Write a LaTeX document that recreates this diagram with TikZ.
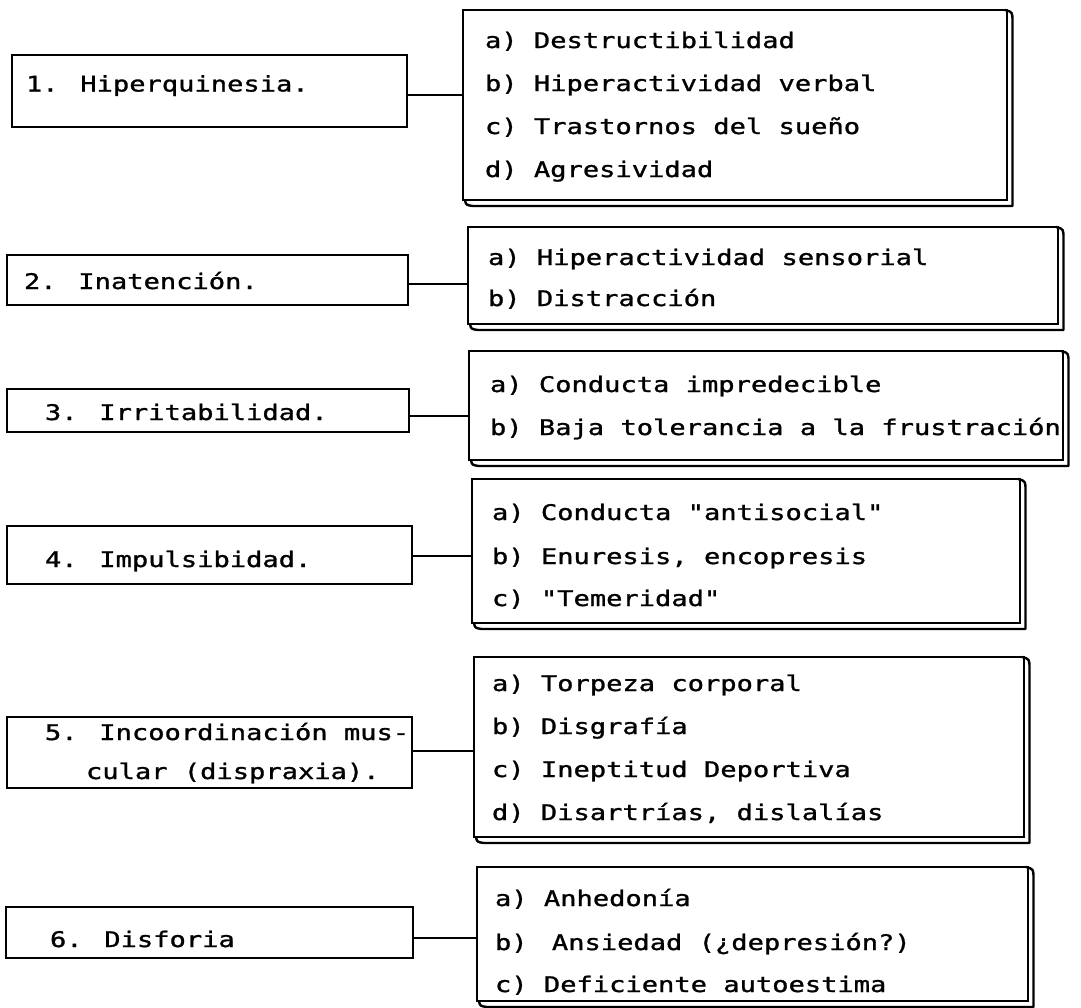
\documentclass[tikz,border=0pt]{standalone}
\usepackage{fontspec}
\newfontfamily\tw[FakeStretch=1.26,FakeBold=1.2]{DejaVu Sans Mono}
\newcommand\halfch{\hspace{8pt}}
\begin{document}
\begin{tikzpicture}[x=1pt,y=-1pt,
  lbox/.style={draw, line width=2.9pt, rectangle, inner sep=0pt, outer sep=0pt, anchor=north west},
  rbox/.style={draw, line width=2.9pt, rectangle, inner sep=0pt, outer sep=0pt, anchor=north west},
  txt/.style={inner sep=0pt, outer sep=0pt, anchor=base west, font=\tw\fontsize{21.5}{24}\selectfont},
  link/.style={line width=2.9pt},
  shadow/.style={line width=2.4pt, line join=round, line cap=round}]
\useasboundingbox (0,0) rectangle (1081,1007);
\newcommand\bx[6]{\node[#1, minimum width={(#5-#3)*1pt}, minimum height={(#6-#4)*1pt}] (#2) at (#3,#4) {};}
\newcommand\shd[1]{\draw[shadow] ([xshift=2pt]#1.south west) .. controls ([xshift=3pt,yshift=-5pt]#1.south west) .. ([xshift=10pt,yshift=-6pt]#1.south west) -- ([xshift=5.5pt,yshift=-6pt]#1.south east) -- ([xshift=5.5pt,yshift=-12pt]#1.north east) .. controls ([xshift=5.5pt,yshift=-2pt]#1.north east) .. ([xshift=-2pt]#1.north east);}

% left boxes
\bx{lbox}{L1}{12}{55}{407}{127}
\bx{lbox}{L2}{7}{255}{408}{305}
\bx{lbox}{L3}{7}{389}{409}{432}
\bx{lbox}{L4}{7}{526}{412}{584}
\bx{lbox}{L5}{7}{717}{412}{788}
\bx{lbox}{L6}{6}{907}{413}{958}

\node[txt] (L1t) at (26,91.5) {1. Hiperquinesia.};
\node[txt] (L2t) at (24,289) {2. Inatención.};
\node[txt] (L3t) at (45,420) {3. Irritabilidad.};
\node[txt] (L4t) at (45,567) {4. Impulsibidad.};
\node[txt] (L5t) at (45,740) {5. Incoordinación mus-};
\node[txt] (L5u) at (86,779) {cular (dispraxia).};
\node[txt] (L6t) at (50,947) {6. Disforia};

% right boxes
\bx{rbox}{R1}{463}{10}{1007}{200}
\bx{rbox}{R2}{468}{227}{1058}{324}
\bx{rbox}{R3}{469}{351}{1063}{460}
\bx{rbox}{R4}{472}{479}{1020}{623}
\bx{rbox}{R5}{474}{657}{1024}{837}
\bx{rbox}{R6}{477}{867}{1028}{1001}
\shd{R1}\shd{R2}\shd{R3}\shd{R4}\shd{R5}\shd{R6}

\node[txt] (R1a) at (485,48) {a) Destructibilidad};
\node[txt] (R1b) at (485,91) {b) Hiperactividad verbal};
\node[txt] (R1c) at (485,134) {c) Trastornos del sueño};
\node[txt] (R1d) at (485,177) {d) Agresividad};

\node[txt] (R2a) at (488,265) {a) Hiperactividad sensorial};
\node[txt] (R2b) at (488,306) {b) Distracción};

\node[txt] (R3a) at (490,392) {a) Conducta impredecible};
\node[txt] (R3b) at (490,435) {b) Baja tolerancia a la frustración};

\node[txt] (R4a) at (492,520) {a) Conducta "antisocial"};
\node[txt] (R4b) at (492,564) {b) Enuresis, encopresis};
\node[txt] (R4c) at (492,606) {c) "Temeridad"};

\node[txt] (R5a) at (492,691) {a) Torpeza corporal};
\node[txt] (R5b) at (492,734) {b) Disgrafía};
\node[txt] (R5c) at (492,777) {c) Ineptitud Deportiva};
\node[txt] (R5d) at (492,820) {d) Disartrías, dislalías};

\node[txt] (R6a) at (495,906) {a) Anhedonía};
\node[txt] (R6b) at (495,950) {b) \halfch Ansiedad (¿depresión?)};
\node[txt] (R6c) at (495,992) {c) Deficiente autoestima};

% connectors
\coordinate (c1) at (0,95);
\coordinate (c2) at (0,284);
\coordinate (c3) at (0,416);
\coordinate (c4) at (0,556);
\coordinate (c5) at (0,751);
\coordinate (c6) at (0,938);
\draw[link] (L1.east |- c1) -- (R1.west |- c1);
\draw[link] (L2.east |- c2) -- (R2.west |- c2);
\draw[link] (L3.east |- c3) -- (R3.west |- c3);
\draw[link] (L4.east |- c4) -- (R4.west |- c4);
\draw[link] (L5.east |- c5) -- (R5.west |- c5);
\draw[link] (L6.east |- c6) -- (R6.west |- c6);
\end{tikzpicture}
\end{document}
